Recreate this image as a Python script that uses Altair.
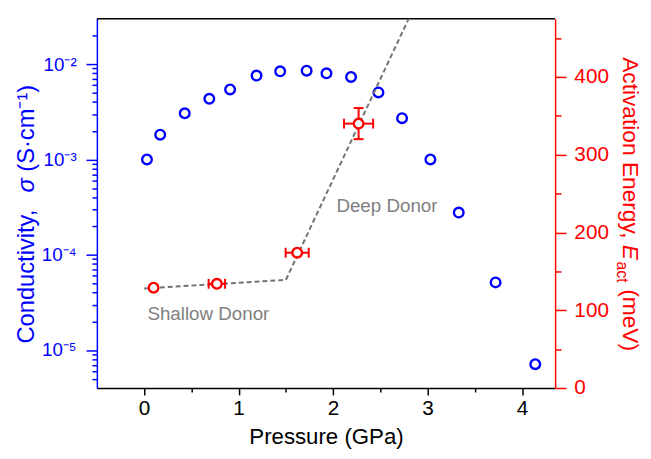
import altair as alt
import pandas as pd

# ---------------- data ----------------
sigma_pressure = [0.03, 0.17, 0.43, 0.69, 0.91, 1.19, 1.44, 1.72, 1.93, 2.19, 2.48, 2.73, 3.03, 3.33, 3.72, 4.14]
sigma_values = [1.0e-3, 1.82e-3, 3.05e-3, 4.33e-3, 5.42e-3, 7.58e-3, 8.4e-3, 8.54e-3, 8.0e-3, 7.33e-3,
                5.05e-3, 2.71e-3, 1.0e-3, 2.77e-4, 5.13e-5, 7.1e-6]

eact_pressure = [0.10, 0.77, 1.62, 2.27]
eact_values = [129, 134, 174, 340]
eact_p_err = [0.0, 0.087, 0.122, 0.154]
eact_e_err = [0.0, 0.0, 0.0, 20.0]

fit_pressure = [0.0, 1.50, 2.82]
fit_eact = [128, 139, 480]

note_text = ["Shallow Donor", "Deep Donor"]
note_pressure = [0.68, 2.57]
note_eact = [88, 226]

x_ticks = [0, 0.5, 1, 1.5, 2, 2.5, 3, 3.5, 4]
right_ticks = [0, 50, 100, 150, 200, 250, 300, 350, 400, 450]
left_ticks = [m * 10 ** d for d in range(-6, -1) for m in range(1, 10) if 4.1e-6 < m * 10 ** d < 2.9e-2]

left_title_parts = ["Conductivity,", "σ", "(S·cm⁻¹)"]
right_title_parts = ["Activation Energy,", "E", "act", "(meV)"]

# ---------------- styling ----------------
W, H = 464, 374
FONT = "Liberation Sans"
BLUE = "#0000FF"
RED = "#FF0000"

sigma_df = pd.DataFrame({"p": sigma_pressure, "s": sigma_values})
eact_df = pd.DataFrame({"p": eact_pressure, "e": eact_values, "perr": eact_p_err, "eerr": eact_e_err})
eact_df["plo"] = eact_df["p"] - eact_df["perr"]
eact_df["phi"] = eact_df["p"] + eact_df["perr"]
eact_df["elo"] = eact_df["e"] - eact_df["eerr"]
eact_df["ehi"] = eact_df["e"] + eact_df["eerr"]
xerr_df = eact_df[eact_df["perr"] > 0]
yerr_df = eact_df[eact_df["eerr"] > 0]
fit_df = pd.DataFrame({"p": fit_pressure, "e": fit_eact})
note_df = pd.DataFrame({"p": note_pressure, "e": note_eact, "t": note_text})

x_scale = alt.Scale(domain=[-0.5, 4.35], nice=False, zero=False)
left_scale = alt.Scale(type="log", domain=[4e-6, 3e-2], nice=False)
right_scale = alt.Scale(domain=[0, 475], nice=False, zero=False)

x_axis = alt.Axis(
    orient="bottom", values=x_ticks, grid=False,
    labelExpr="datum.value % 1 == 0 ? format(datum.value, 'd') : ''",
    title="Pressure (GPa)", titleFont=FONT, titleFontSize=22.5, titleFontWeight="normal",
    titleColor="black", titlePadding=7,
    labelFont=FONT, labelFontSize=21, labelColor="black", labelPadding=3,
    labelOverlap=False, labelFlush=False,
    domainColor="black", domainWidth=1.5, tickColor="black", tickWidth=1.5,
    tickSize={"condition": {"test": "datum.value % 1 == 0", "value": 7}, "value": 4},
)

major_test = "abs(log(datum.value)/LN10 - round(log(datum.value)/LN10)) < 0.001"
left_axis = alt.Axis(
    orient="left", values=left_ticks, grid=False, title=None,
    labelExpr=(
        f"({major_test}) ? ('10' + (round(log(datum.value)/LN10) == -2 ? '⁻²' : "
        "round(log(datum.value)/LN10) == -3 ? '⁻³' : round(log(datum.value)/LN10) == -4 ? '⁻⁴' : '⁻⁵')) : ''"
    ),
    labelFont=FONT, labelFontSize=19, labelColor=BLUE, labelPadding=10,
    labelOverlap=False, labelFlush=False,
    domainColor=BLUE, domainWidth=1.5, tickColor=BLUE, tickWidth=1.5,
    tickSize={"condition": {"test": major_test, "value": 11}, "value": 5},
)

right_axis = alt.Axis(
    orient="right", values=right_ticks, grid=False, title=None,
    labelExpr="datum.value % 100 == 0 ? format(datum.value, 'd') : ''",
    labelFont=FONT, labelFontSize=21, labelColor=RED, labelPadding=8,
    labelOverlap=False, labelFlush=False,
    domainColor=RED, domainWidth=1.5, tickColor=RED, tickWidth=1.5,
    tickSize={"condition": {"test": "datum.value % 100 == 0", "value": 11}, "value": 6},
)

X = alt.X("p:Q", scale=x_scale, axis=x_axis)

# ---------------- left (conductivity) layer ----------------
blue_pts = alt.Chart(sigma_df).mark_point(
    shape="circle", filled=False, color=BLUE, size=95, strokeWidth=2.4, opacity=1
).encode(x=X, y=alt.Y("s:Q", scale=left_scale, axis=left_axis))


def title_piece(text, x, y, angle, color, size=23, style="normal"):
    return alt.Chart(pd.DataFrame({"t": [text]})).mark_text(
        angle=angle, align="left", baseline="alphabetic", font=FONT,
        fontSize=size, fontStyle=style, color=color,
    ).encode(text="t:N", x=alt.value(x), y=alt.value(y))


left_title = [
    title_piece(left_title_parts[0], -64, 329, 270, BLUE, size=24),
    title_piece(left_title_parts[1], -64, 176, 270, BLUE, size=24, style="italic"),
    title_piece(left_title_parts[2], -64, 155, 270, BLUE, size=24),
]

right_title = [
    title_piece(right_title_parts[0], 533, 39, 90, RED),
    title_piece(right_title_parts[1], 533, 229, 90, RED, style="italic"),
    title_piece(right_title_parts[2], 527, 246, 90, RED, size=16),
    title_piece(right_title_parts[3], 533, 274, 90, RED),
]

top_border = alt.Chart(pd.DataFrame({"a": [0]})).mark_rule(color="black", strokeWidth=1.5).encode(
    x=alt.value(0), x2=alt.value(W), y=alt.value(0)
)

left_group = alt.layer(blue_pts, top_border, *left_title)

# ---------------- right (activation energy) layer ----------------
YR = alt.Y("e:Q", scale=right_scale, axis=right_axis)

fit_line = alt.Chart(fit_df).mark_line(
    color="#737373", strokeWidth=2, strokeDash=[5, 3], clip=True
).encode(x=X, y=YR)

xerr_rule = alt.Chart(xerr_df).mark_rule(color=RED, strokeWidth=2).encode(
    x=alt.X("plo:Q", scale=x_scale, axis=x_axis), x2="phi:Q", y=YR
)
xerr_cap_lo = alt.Chart(xerr_df).mark_tick(color=RED, orient="vertical", size=10, thickness=2, opacity=1).encode(
    x=alt.X("plo:Q", scale=x_scale, axis=x_axis), y=YR
)
xerr_cap_hi = alt.Chart(xerr_df).mark_tick(color=RED, orient="vertical", size=10, thickness=2, opacity=1).encode(
    x=alt.X("phi:Q", scale=x_scale, axis=x_axis), y=YR
)
yerr_rule = alt.Chart(yerr_df).mark_rule(color=RED, strokeWidth=2).encode(
    x=X, y=alt.Y("elo:Q", scale=right_scale, axis=right_axis), y2="ehi:Q"
)
yerr_cap_lo = alt.Chart(yerr_df).mark_tick(color=RED, orient="horizontal", size=10, thickness=2, opacity=1).encode(
    x=X, y=alt.Y("elo:Q", scale=right_scale, axis=right_axis)
)
yerr_cap_hi = alt.Chart(yerr_df).mark_tick(color=RED, orient="horizontal", size=10, thickness=2, opacity=1).encode(
    x=X, y=alt.Y("ehi:Q", scale=right_scale, axis=right_axis)
)
red_pts = alt.Chart(eact_df).mark_point(
    shape="circle", filled=True, fill="white", stroke=RED, strokeWidth=2.4, size=95, opacity=1
).encode(x=X, y=YR)

notes = alt.Chart(note_df).mark_text(
    font=FONT, fontSize=19, color="#808080", align="center", baseline="alphabetic"
).encode(x=X, y=YR, text="t:N")

right_group = alt.layer(
    fit_line, xerr_rule, xerr_cap_lo, xerr_cap_hi, yerr_rule, yerr_cap_lo, yerr_cap_hi,
    red_pts, notes, *right_title
)

chart = alt.layer(left_group, right_group).resolve_scale(y="independent").properties(
    width=W, height=H,
    autosize=alt.AutoSizeParams(type="none"),
    padding={"left": 90, "top": 8, "right": 89, "bottom": 60},
    background="white",
).configure_view(stroke=None)

chart.save("out.html", embed_options={"renderer": "svg", "actions": False})
